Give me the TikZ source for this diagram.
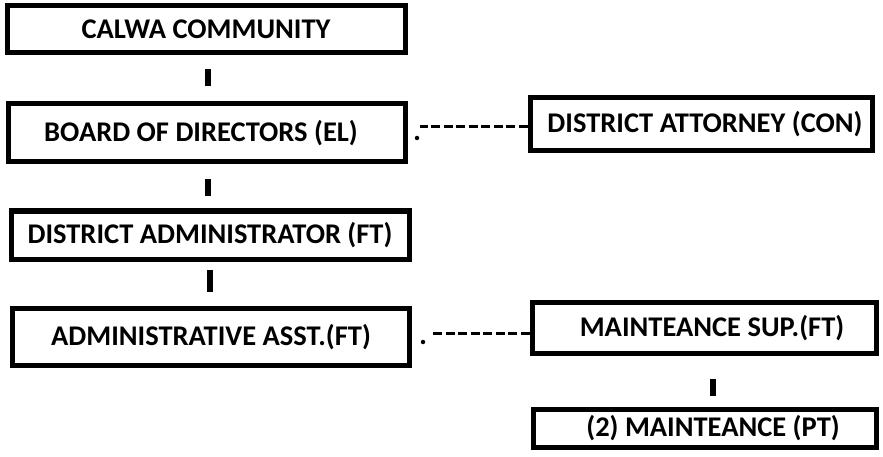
\documentclass[tikz,border=0pt]{standalone}
\usepackage{fontspec}
\setmainfont{Carlito}
\usetikzlibrary{calc}
\begin{document}
\begin{tikzpicture}[x=1pt,y=-1pt,
  orgbox/.style={draw=black,line width=5pt,fill=white,rectangle,inner sep=0pt,
    font=\fontsize{28.5}{32}\selectfont\bfseries,text=black},
  bar/.style={line width=6pt,black},
  dashconn/.style={line width=3pt,black,dash pattern=on 9pt off 3.5pt},
  dotmark/.style={circle,fill=black,inner sep=0pt,minimum size=4.5pt}]
\useasboundingbox[fill=white] (0,0) rectangle (883,457);

% left column
\node[orgbox,minimum width=398pt,minimum height=47pt] (calwa) at (206,29) {CALWA COMMUNITY};
\node[orgbox,minimum width=397pt,minimum height=58pt] (board) at (207,133) {BOARD OF DIRECTORS (EL)\hspace*{12pt}};
\node[orgbox,minimum width=398pt,minimum height=48pt] (admin) at (210,235) {DISTRICT ADMINISTRATOR (FT)};
\node[orgbox,minimum width=397pt,minimum height=57pt] (asst) at (211,337) {ADMINISTRATIVE ASST.(FT)};

% right column
\node[orgbox,minimum width=342pt,minimum height=53pt] (attorney) at (701,124) {\hspace*{8pt}DISTRICT ATTORNEY (CON)};
\node[orgbox,minimum width=344pt,minimum height=51pt] (sup) at (704,328) {\hspace*{16pt}MAINTEANCE SUP.(FT)};
\node[orgbox,minimum width=343pt,minimum height=38pt] (crew) at (705,428) {\hspace*{16pt}(2) MAINTEANCE (PT)};

% reporting lines (short bars)
\draw[bar,shorten <=14pt,shorten >=15pt] ([xshift=2pt]calwa.south) -- ([xshift=2pt]calwa.south |- board.north);
\draw[bar,shorten <=15pt,shorten >=12pt] ([xshift=1pt]board.south) -- ([xshift=1pt]board.south |- admin.north);
\draw[bar,shorten <=8pt,shorten >=14pt] (admin.south) -- (admin.south |- asst.north);
\draw[bar,shorten <=23pt,shorten >=11pt] ([xshift=9pt]sup.south) -- ([xshift=9pt]sup.south |- crew.north);

% advisory links (dotted start, dashed line)
\draw[dashconn] ($(attorney.west)+(0pt,-3pt)$) -- ($(board.east |- attorney.west)+(12pt,-3pt)$);
\node[dotmark] (bdot) at ($(board.east)+(9pt,-5pt)$) {};
\draw[dashconn] ($(sup.west)+(0pt,-5pt)$) -- ($(asst.east |- sup.west)+(20pt,-5pt)$);
\node[dotmark] (adot) at ($(asst.east)+(11pt,-5pt)$) {};
\end{tikzpicture}
\end{document}
